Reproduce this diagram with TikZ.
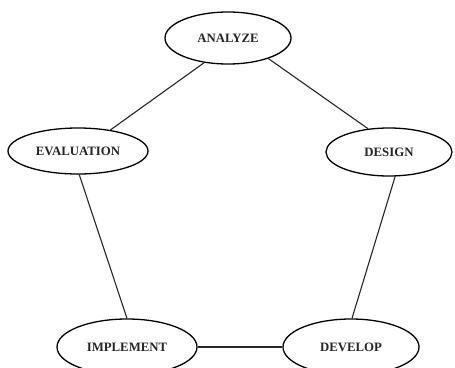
\documentclass[tikz,border=0pt]{standalone}
\usepackage{fontspec}
\setmainfont{Liberation Serif}
\usetikzlibrary{shapes.geometric}
\begin{document}
\begin{tikzpicture}[x=1pt,y=-1pt,
  phase/.style={ellipse, draw=black, line width=1.3pt, inner sep=0pt, fill=white,
    font=\fontsize{12.8}{14}\selectfont\bfseries, text=black!85},
  link/.style={draw=black!85, line width=1.1pt}]
\useasboundingbox (0,0) rectangle (455,367);
\node[phase, minimum width=126pt, minimum height=52pt] (ana) at (228,38) {ANALYZE};
\node[phase, minimum width=140pt, minimum height=46pt] (eva) at (78,151) {EVALUATION};
\node[phase, minimum width=126pt, minimum height=48pt] (des) at (389,152) {DESIGN};
\node[phase, minimum width=140pt, minimum height=56pt] (imp) at (127,347) {IMPLEMENT};
\node[phase, minimum width=136pt, minimum height=56pt] (dev) at (351,347) {DEVELOP};
\draw[link] (ana.-134) -- (eva.33);
\draw[link] (ana.-27) -- (des.132);
\draw[link] (eva.-87) -- (imp.90);
\draw[link] (des.-76) -- (dev.88);
\draw[link] (imp) -- (dev);
\end{tikzpicture}
\end{document}
